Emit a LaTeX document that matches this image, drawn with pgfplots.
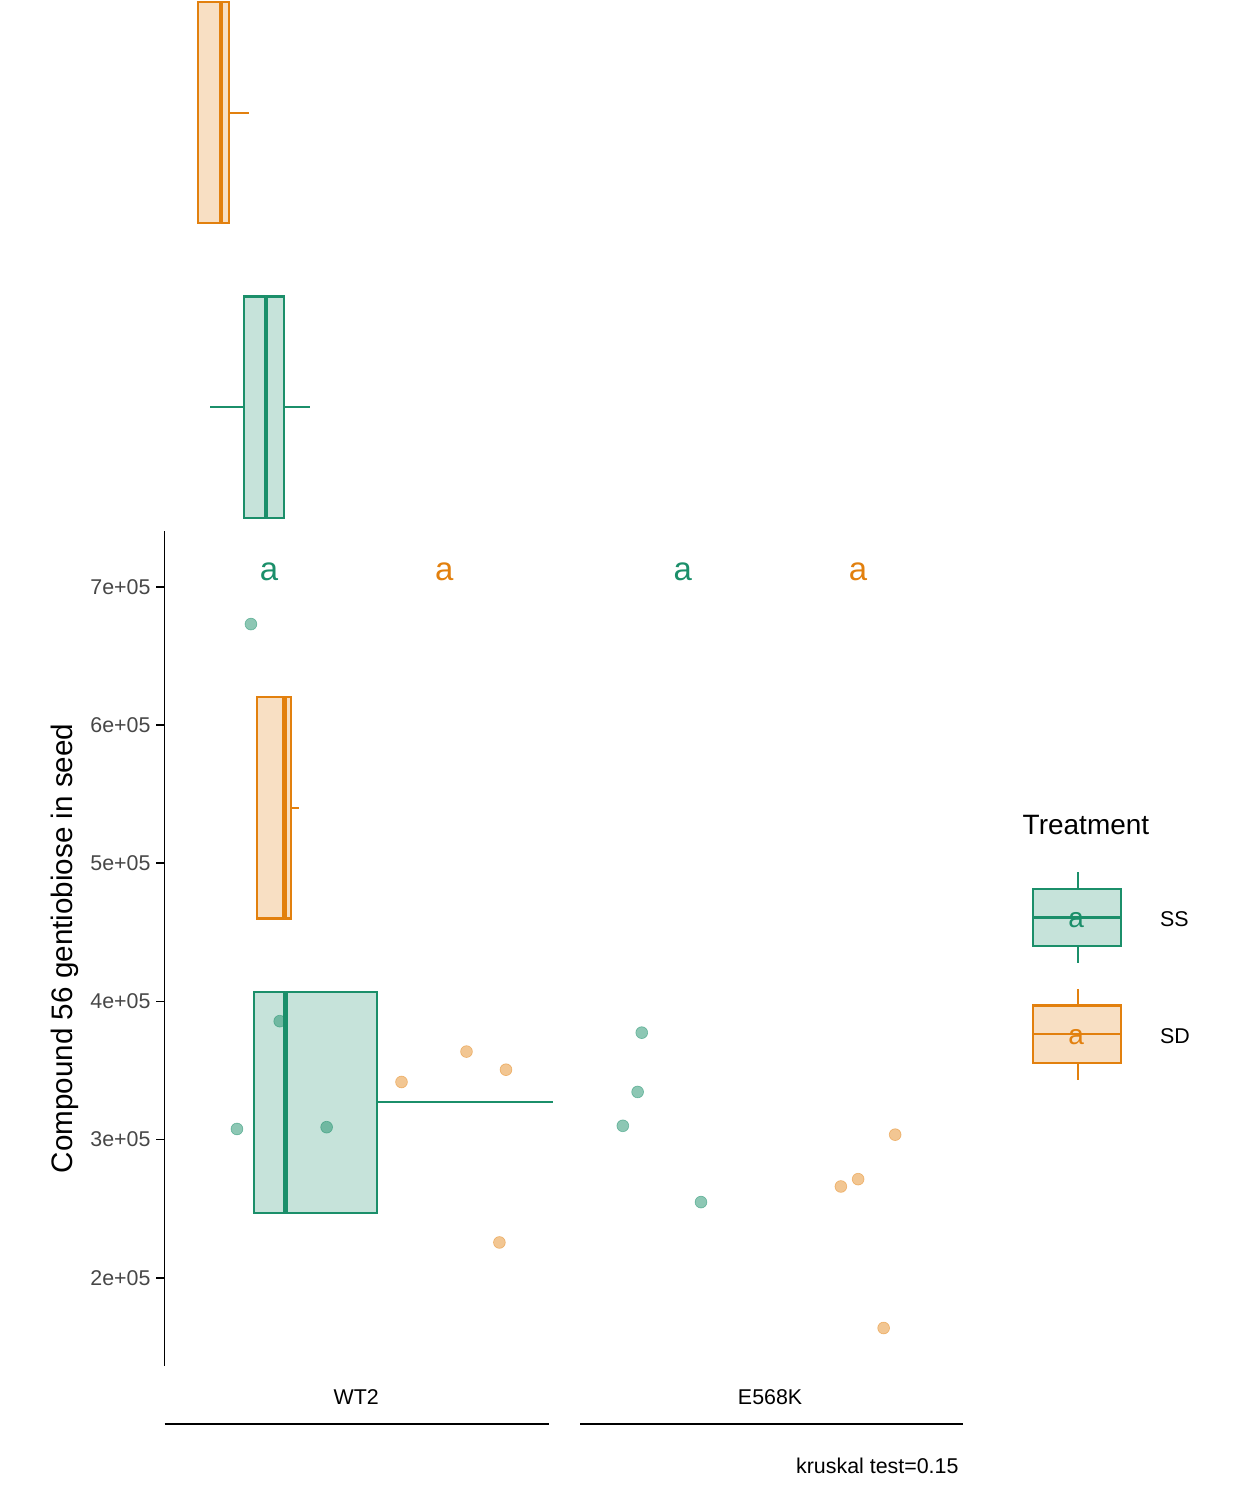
\documentclass[border=0pt]{standalone}
\usepackage{pgfplots}
\pgfplotsset{compat=1.18}
\usepgfplotslibrary{statistics}
\usepackage{fontspec}
\setmainfont{Liberation Sans}
\definecolor{ss}{HTML}{1B8F6A}
\definecolor{sd}{HTML}{E2800E}
\begin{document}
\begin{tikzpicture}
\begin{axis}[at={(100pt,81.5pt)},anchor=south west,scale only axis,width=485pt,height=507.5pt,
 xmin=2.00,xmax=11.70,ymin=1.363,ymax=7.405,clip=false,
 axis x line=none, axis y line*=left, axis line style={line width=1.1pt,-},
 ytick={2,3,4,5,6,7},
 yticklabels={2e+05,3e+05,4e+05,5e+05,6e+05,7e+05},
 yticklabel style={font=\fontsize{13}{13}\selectfont,text=black!72},
 tick style={line width=1pt,black}, tick align=outside, major tick length=5pt,
 ylabel={Compound 56 gentiobiose in seed}, ylabel style={font=\fontsize{18}{18}\selectfont},
 boxplot/whisker extend=0,
 boxplot/every median/.style={line width=2.6pt},
 boxplot/box extend=1.60]
\addplot[boxplot prepared={draw position=3.27,lower whisker=3.083,lower quartile=3.083,median=3.470,upper quartile=4.577,upper whisker=6.72},draw=ss,fill=ss!25,line width=1.3pt] coordinates {};
\addplot[boxplot prepared={draw position=5.40,lower whisker=3.119,lower quartile=3.119,median=3.458,upper quartile=3.536,upper whisker=3.637},draw=sd,fill=sd!25,line width=1.3pt] coordinates {};
\addplot[boxplot prepared={draw position=8.30,lower whisker=2.554,lower quartile=2.964,median=3.232,upper quartile=3.452,upper whisker=3.768},draw=ss,fill=ss!25,line width=1.3pt] coordinates {};
\addplot[boxplot prepared={draw position=10.43,lower whisker=2.405,lower quartile=2.405,median=2.685,upper quartile=2.786,upper whisker=3.024},draw=sd,fill=sd!25,line width=1.3pt] coordinates {};
\addplot[only marks,mark=*,mark size=3.6pt,color=ss,opacity=0.5] coordinates {(3.05,6.730)(3.40,3.857)(2.88,3.077)(3.97,3.090)(7.80,3.774)(7.75,3.345)(7.57,3.100)(8.52,2.548)};
\addplot[only marks,mark=*,mark size=3.6pt,color=sd,opacity=0.45] coordinates {(5.67,3.637)(4.88,3.417)(6.15,3.506)(6.07,2.256)(10.88,3.036)(10.43,2.714)(10.22,2.661)(10.74,1.637)};
\node[text=ss,font=\fontsize{20}{20}\selectfont] at (axis cs:3.27,7.11) {a};
\node[text=sd,font=\fontsize{20}{20}\selectfont] at (axis cs:5.40,7.11) {a};
\node[text=ss,font=\fontsize{20}{20}\selectfont] at (axis cs:8.30,7.11) {a};
\node[text=sd,font=\fontsize{20}{20}\selectfont] at (axis cs:10.43,7.11) {a};
\end{axis}
\begin{scope}[x=0.5pt,y=0.5pt]
\path (0,0) rectangle (1500,1200);
\draw[line width=1.3pt] (200,92)--(667,92);
\draw[line width=1.3pt] (705,92)--(1170,92);
\node[font=\fontsize{13}{13}\selectfont] at (433,125) {WT2};
\node[font=\fontsize{13}{13}\selectfont] at (936,125) {E568K};
\node[font=\fontsize{13}{13}\selectfont,anchor=east] at (1172,42) {kruskal test=0.15};
\node[font=\fontsize{17}{17}\selectfont,anchor=west] at (1236,820) {Treatment};
\draw[ss,line width=1.3pt] (1310,763)--(1310,743) (1310,673)--(1310,653);
\draw[ss,line width=1.3pt,fill=ss!25] (1256,673) rectangle (1363,743);
\draw[ss,line width=1.3pt] (1256,708)--(1363,708);
\node[text=ss,font=\fontsize{17}{17}\selectfont] at (1308,705) {a};
\draw[sd,line width=1.3pt] (1310,621)--(1310,601) (1310,531)--(1310,511);
\draw[sd,line width=1.3pt,fill=sd!25] (1256,531) rectangle (1363,601);
\draw[sd,line width=1.3pt] (1256,566)--(1363,566);
\node[text=sd,font=\fontsize{17}{17}\selectfont] at (1308,563) {a};
\node[font=\fontsize{13}{13}\selectfont,anchor=west] at (1403,706) {SS};
\node[font=\fontsize{13}{13}\selectfont,anchor=west] at (1403,564) {SD};
\end{scope}
\end{tikzpicture}
\end{document}
